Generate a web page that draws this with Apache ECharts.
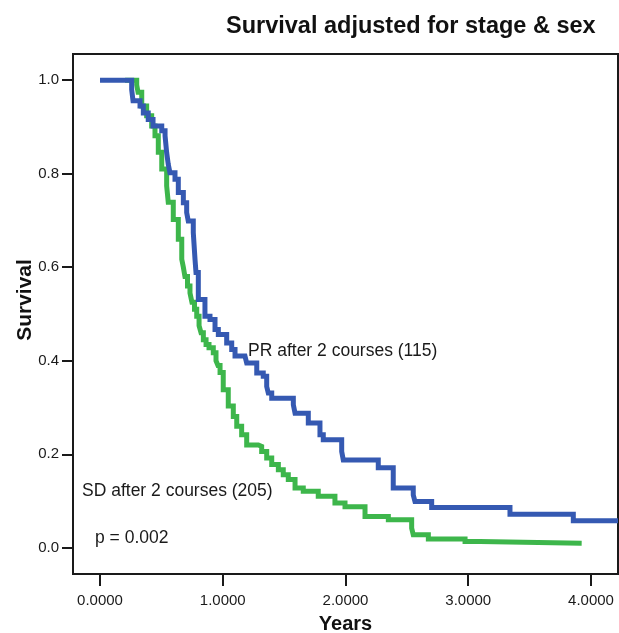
<!DOCTYPE html>
<html>
<head>
<meta charset="utf-8">
<script src="https://cdn.jsdelivr.net/npm/echarts@6.0.0/dist/echarts.min.js"></script>
<style>
    html, body { margin: 0; padding: 0; background: #fff; overflow: hidden; }
    #survival { width: 619px; height: 633px; }
</style>
</head>
<body>
<div id="survival"></div>
<script>
// PR after 2 courses (blue) - time in years / adjusted survival
var prTimes = [0, 0.258, 0.269, 0.326, 0.353, 0.393, 0.432, 0.503, 0.530, 0.543, 0.556, 0.570,
    0.611, 0.638, 0.679, 0.706, 0.719, 0.760, 0.774, 0.782, 0.801, 0.855, 0.896, 0.937, 0.964,
    1.032, 1.073, 1.100, 1.181, 1.195, 1.277, 1.330, 1.358, 1.371, 1.399, 1.575, 1.589, 1.697,
    1.792, 1.819, 1.969, 1.982, 2.267, 2.389, 2.552, 2.566, 2.702, 3.340, 3.856, 4.22];
var prSurv = [1.0, 0.98, 0.956, 0.945, 0.93, 0.916, 0.902, 0.892, 0.881, 0.845, 0.82, 0.802,
    0.788, 0.76, 0.738, 0.717, 0.699, 0.674, 0.617, 0.589, 0.531, 0.495, 0.488, 0.467, 0.456,
    0.438, 0.424, 0.41, 0.406, 0.395, 0.374, 0.367, 0.345, 0.331, 0.32, 0.306, 0.288, 0.267,
    0.242, 0.231, 0.206, 0.188, 0.171, 0.128, 0.113, 0.099, 0.086, 0.072, 0.058, 0.058];

// SD after 2 courses (green)
var sdTimes = [0.204, 0.299, 0.310, 0.340, 0.380, 0.421, 0.448, 0.475, 0.503, 0.543, 0.556,
    0.597, 0.638, 0.666, 0.679, 0.692, 0.713, 0.733, 0.749, 0.770, 0.788, 0.807, 0.823, 0.842,
    0.864, 0.888, 0.923, 0.945, 0.961, 0.978, 1.004, 1.045, 1.086, 1.114, 1.154, 1.195, 1.290,
    1.317, 1.358, 1.399, 1.453, 1.493, 1.534, 1.589, 1.656, 1.778, 1.914, 1.996, 2.159, 2.349,
    2.539, 2.552, 2.675, 2.974, 3.096, 3.924];
var sdSurv = [1.0, 0.99, 0.974, 0.945, 0.924, 0.902, 0.881, 0.846, 0.81, 0.774, 0.739,
    0.702, 0.66, 0.617, 0.60, 0.58, 0.56, 0.545, 0.525, 0.51, 0.495, 0.475, 0.46, 0.445,
    0.435, 0.428, 0.417, 0.40, 0.39, 0.375, 0.338, 0.303, 0.281, 0.26, 0.242, 0.22, 0.217,
    0.206, 0.192, 0.178, 0.167, 0.156, 0.146, 0.128, 0.121, 0.11, 0.096, 0.088, 0.067, 0.06,
    0.042, 0.028, 0.019, 0.0135, 0.01, 0.01];

var xTicks = [0, 1, 2, 3, 4];
var yTicks = [0, 0.2, 0.4, 0.6, 0.8, 1.0];

var prLabel = 'PR after 2 courses (115)';
var sdLabel = 'SD after 2 courses (205)';
var pLabel = 'p = 0.002';

function toPairs(xs, ys) {
    return xs.map(function (x, i) {
        return [x, ys[i]];
    });
}

var font = 'Arial, "Liberation Sans", Helvetica, sans-serif';
var dom = document.getElementById('survival');
var myChart = echarts.init(dom, null, {renderer: 'canvas', width: 619, height: 633});
var option = {
    animation: false,
    backgroundColor: '#ffffff',
    title: {
        text: 'Survival adjusted for stage & sex',
        left: 221,
        top: 10,
        textStyle: {fontFamily: font, fontSize: 23.5, fontWeight: 'bold', color: '#111'}
    },
    grid: {
        left: 73,
        top: 54,
        width: 545,
        height: 520,
        show: true,
        borderColor: '#1a1a1a',
        borderWidth: 2,
        containLabel: false,
        // v6 would otherwise shrink the plot so "Years" fits inside
        outerBoundsMode: 'none'
    },
    xAxis: {
        type: 'value',
        min: -0.22,
        max: 4.22,
        name: 'Years',
        nameLocation: 'middle',
        nameGap: 40,
        nameTextStyle: {fontFamily: font, fontSize: 20, fontWeight: 'bold', color: '#111'},
        splitLine: {show: false},
        axisLine: {show: false, onZero: false},
        axisTick: {
            show: true,
            inside: false,
            length: 12,
            customValues: xTicks,
            lineStyle: {color: '#1a1a1a', width: 2}
        },
        axisLabel: {
            customValues: xTicks,
            margin: 19,
            fontFamily: font,
            fontSize: 15,
            color: '#1a1a1a',
            formatter: function (v) {
                return v.toFixed(4);
            }
        }
    },
    yAxis: {
        type: 'value',
        min: -0.056,
        max: 1.056,
        splitLine: {show: false},
        axisLine: {show: false, onZero: false},
        axisTick: {
            show: true,
            inside: false,
            length: 11,
            customValues: yTicks,
            lineStyle: {color: '#1a1a1a', width: 2}
        },
        axisLabel: {
            customValues: yTicks,
            margin: 14,
            fontFamily: font,
            fontSize: 15,
            color: '#1a1a1a',
            formatter: function (v) {
                return v.toFixed(1);
            }
        }
    },
    graphic: [
        {
            type: 'text',
            x: 25,
            y: 300,
            rotation: Math.PI / 2,
            style: {
                text: 'Survival',
                fontFamily: font,
                fontSize: 21,
                fontWeight: 'bold',
                fill: '#111',
                align: 'center',
                verticalAlign: 'middle'
            }
        },
        {
            type: 'text',
            x: 248,
            y: 351,
            style: {text: prLabel, fontFamily: font, fontSize: 17.5, fill: '#1a1a1a', verticalAlign: 'middle'}
        },
        {
            type: 'text',
            x: 82,
            y: 491,
            style: {text: sdLabel, fontFamily: font, fontSize: 17.5, fill: '#1a1a1a', verticalAlign: 'middle'}
        },
        {
            type: 'text',
            x: 95,
            y: 538,
            style: {text: pLabel, fontFamily: font, fontSize: 17.5, fill: '#1a1a1a', verticalAlign: 'middle'}
        }
    ],
    series: [
        {
            name: 'PR',
            type: 'line',
            step: 'end',
            symbol: 'none',
            z: 3,
            lineStyle: {color: '#3559b2', width: 5, join: 'miter'},
            data: toPairs(prTimes, prSurv)
        },
        {
            name: 'SD',
            type: 'line',
            step: 'end',
            symbol: 'none',
            z: 2,
            lineStyle: {color: '#3db64b', width: 5, join: 'miter'},
            data: toPairs(sdTimes, sdSurv)
        }
    ]
};

if (option && typeof option === 'object') {
    myChart.setOption(option);
}
</script>
</body>
</html>
